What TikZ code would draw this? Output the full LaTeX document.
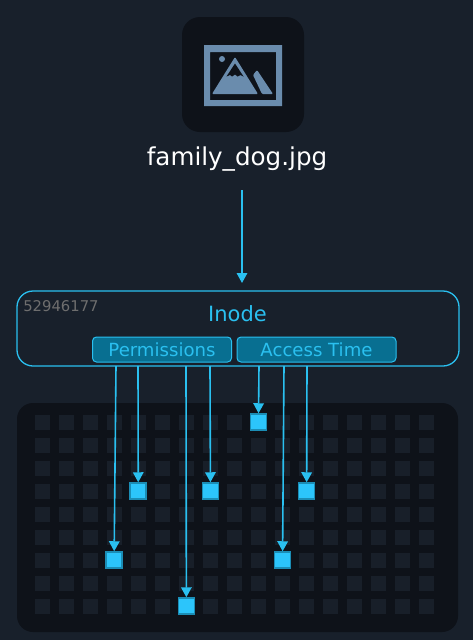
\documentclass[tikz,border=0pt]{standalone}
\usepackage{fontspec}
\setmainfont{DejaVu Sans}
\usetikzlibrary{arrows.meta}
\definecolor{pagebg}{HTML}{18202B}
\definecolor{panelbg}{HTML}{0E1219}
\definecolor{cellbg}{HTML}{181F29}
\definecolor{iconblue}{HTML}{6A8CAD}
\definecolor{inodeblue}{HTML}{2AC0F0}
\definecolor{tagfill}{HTML}{086F91}
\definecolor{usedcell}{HTML}{2CC5FB}
\definecolor{usededge}{HTML}{1B8DB5}
\definecolor{idgrey}{HTML}{6E6E6E}
\tikzset{
  cell/.style={minimum size=15pt, inner sep=0pt, fill=cellbg},
  usedblock/.style={minimum size=16pt, inner sep=0pt, fill=usedcell, draw=usededge, line width=1.5pt},
  tag/.style={draw=inodeblue, fill=tagfill, rounded corners=4pt, line width=1pt, text=inodeblue,
              inner sep=0pt, minimum height=25pt, font=\fontsize{18.1}{20}\selectfont},
  link/.style={draw=inodeblue, line width=1.6pt, -{Triangle[length=10pt,width=10.5pt]}}
}
\begin{document}
\begin{tikzpicture}[x=1pt, y=-1pt]
  \useasboundingbox[fill=pagebg] (0,0) rectangle (473,640);
  % file icon
  \node (iconbox) at (243,74.5) [fill=panelbg, rounded corners=18pt, minimum width=122pt, minimum height=115pt, inner sep=0pt] {};
  \fill[iconblue, even odd rule] (204,45) rectangle (282,106) (210,52) rectangle (276,100);
  \fill[iconblue] (222,59) circle (3pt);
  \fill[iconblue, rounded corners=1pt] (235,57) -- (258,94) -- (212,94) -- cycle;
  \fill[panelbg] (235,63.5) -- (243.5,76.5) -- (240.5,75) -- (237.5,76.5) -- (235,74.5) -- (232,76.5) -- (230,75) -- (226.5,76.5) -- cycle;
  \fill[iconblue, rounded corners=1pt] (257,70) -- (273,94) -- (262,94) -- (253,75) -- cycle;
  \node (filename) at (237,159) [text=white, inner sep=0pt, font=\fontsize{24.6}{28}\selectfont] {family\_dog.jpg};
  \coordinate (fileout) at (242,190);
  % inode
  \node (inode) at (238,328.5) [draw=inodeblue, rounded corners=16pt, line width=1.3pt, minimum width=442pt, minimum height=75pt, inner sep=0pt] {};
  \node (inodename) at (237.5,313.5) [text=inodeblue, inner sep=0pt, font=\fontsize{21}{24}\selectfont] {Inode};
  \node (inodenum) at (61,306.5) [text=idgrey, inner sep=0pt, font=\fontsize{14.8}{18}\selectfont] {52946177};
  \node (permissions) at (162,349.5) [tag, minimum width=139pt] {Permissions};
  \node (accesstime) at (316.5,349.5) [tag, minimum width=159pt] {Access Time};
  \draw[link] (fileout) -- (242,283) coordinate (inodein);
  % disk blocks
  \node (disk) at (237.5,517.5) [fill=panelbg, rounded corners=16pt, minimum width=441pt, minimum height=229pt, inner sep=0pt] {};
  \foreach \row in {0,...,8}
    \foreach \col in {0,...,16}
      \node (cell-\row-\col) at (42+24.06*\col,422+23*\row) [cell] {};
  \foreach \row/\col in {0/9, 3/4, 3/7, 3/11, 6/3, 6/10, 8/6}
    \node (block-\row-\col) at (cell-\row-\col) [usedblock] {};
  % links from the inode to its blocks
  \foreach \from/\row/\col in {116/6/3, 138/3/4, 186/8/6, 210/3/7, 259/0/9, 284/6/10, 307/3/11} {
    \coordinate (out-\row-\col) at (\from,366);
    \draw[link] (out-\row-\col) -- (block-\row-\col.north);
  }
\end{tikzpicture}
\end{document}
